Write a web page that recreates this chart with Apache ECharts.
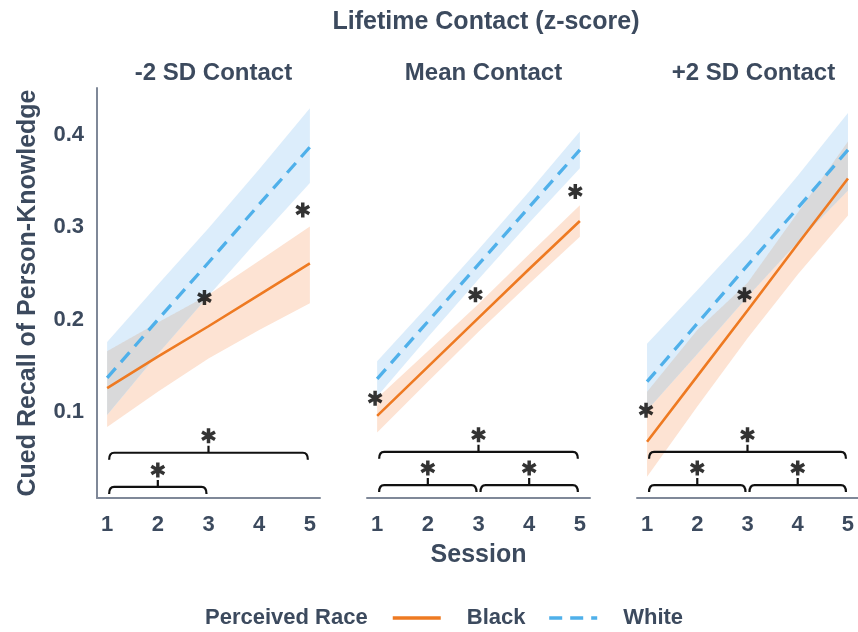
<!DOCTYPE html>
<html><head><meta charset="utf-8">
<script src="https://cdn.jsdelivr.net/npm/echarts@6/dist/echarts.min.js"></script>
<style>html,body{margin:0;padding:0;background:#fff}#c{width:858px;height:632px}</style>
</head><body><div id="c"></div>
<script>
// ---------------- data ----------------
const sessions = [1, 2, 3, 4, 5];
const xTickValues = [1, 2, 3, 4, 5];
const yTickValues = [0.1, 0.2, 0.3, 0.4];
const panelTitles = ['-2 SD Contact', 'Mean Contact', '+2 SD Contact'];
const topTitle = 'Lifetime Contact (z-score)';
const yName = 'Cued Recall of Person-Knowledge';
const xName = 'Session';
const legendTitle = 'Perceived Race';
const raceNames = ['Black', 'White'];

// predicted recall per panel (rows) per session (cols)
const blackFit = [
  [0.126, 0.160, 0.193, 0.227, 0.261],
  [0.096, 0.149, 0.202, 0.255, 0.307],
  [0.068, 0.139, 0.210, 0.282, 0.353]
];
const blackLower = [
  [0.084, 0.122, 0.158, 0.189, 0.218],
  [0.078, 0.133, 0.187, 0.239, 0.290],
  [0.030, 0.106, 0.180, 0.249, 0.313]
];
const blackUpper = [
  [0.166, 0.197, 0.227, 0.264, 0.301],
  [0.115, 0.166, 0.217, 0.271, 0.324],
  [0.122, 0.189, 0.240, 0.316, 0.393]
];
const whiteFit = [
  [0.137, 0.200, 0.262, 0.325, 0.387],
  [0.136, 0.198, 0.260, 0.322, 0.384],
  [0.133, 0.196, 0.259, 0.321, 0.384]
];
const whiteLower = [
  [0.097, 0.163, 0.226, 0.288, 0.348],
  [0.117, 0.181, 0.244, 0.305, 0.364],
  [0.102, 0.163, 0.225, 0.284, 0.340]
];
const whiteUpper = [
  [0.176, 0.238, 0.299, 0.363, 0.429],
  [0.155, 0.215, 0.276, 0.339, 0.404],
  [0.174, 0.232, 0.291, 0.356, 0.424]
];
// significance stars placed next to the lines: [session, recall]
const lineStars = [
  [[2.92, 0.224], [4.86, 0.319]],
  [[0.96, 0.115], [2.94, 0.227], [4.91, 0.339]],
  [[0.98, 0.102], [2.94, 0.227]]
];
// session comparisons (brackets): [fromSession, toSession, recall level]
const brackets = [
  [[1, 3, 0.019], [1, 5, 0.056]],
  [[1, 3, 0.021], [3, 5, 0.021], [1, 5, 0.057]],
  [[1, 3, 0.021], [3, 5, 0.021], [1, 5, 0.057]]
];

// ---------------- style ----------------
const TXT = '#3c4a5e';
const AXIS = '#7f8898';
const ORANGE = '#ee7a22';
const BLUE = '#4fb0ea';
const ORANGE_FILL = '#fde3d3';
const BLUE_FILL = '#dcedfb';
const OVERLAP_FILL = '#d9d9da';
const FONT = '"Liberation Sans", Arial, sans-serif';
const gridLefts = [97, 367, 637];
const GRID_W = 223, GRID_TOP = 88, GRID_H = 410;

function starPath() {
  const L = 9, W = 2.1, parts = [];
  [90, 30, 150].forEach(function (deg) {
    const t = deg * Math.PI / 180, dx = Math.cos(t), dy = Math.sin(t), nx = -dy, ny = dx;
    const p = [
      [10 + L * dx + W * nx, 10 + L * dy + W * ny],
      [10 - L * dx + W * nx, 10 - L * dy + W * ny],
      [10 - L * dx - W * nx, 10 - L * dy - W * ny],
      [10 + L * dx - W * nx, 10 + L * dy - W * ny]
    ].map(function (q) { return q[0].toFixed(2) + ' ' + q[1].toFixed(2); });
    parts.push('M' + p[0] + ' L' + p[1] + ' L' + p[2] + ' L' + p[3] + ' Z');
  });
  return 'path://' + parts.join(' ');
}
const STAR = starPath();

// linear reading between session values (used for band overlap geometry)
function at(arr, x) {
  const i = Math.min(sessions.length - 2, Math.max(0, Math.floor(x - sessions[0])));
  const t = (x - sessions[i]) / (sessions[i + 1] - sessions[i]);
  return arr[i] + (arr[i + 1] - arr[i]) * t;
}

const grids = [], xAxes = [], yAxes = [], series = [], titles = [];
for (let p = 0; p < 3; p++) {
  grids.push({ left: gridLefts[p], top: GRID_TOP, width: GRID_W, height: GRID_H });
  xAxes.push({
    type: 'value', gridIndex: p, min: 0.8, max: 5.2,
    axisLine: { show: true, lineStyle: { color: AXIS, width: 2 } },
    axisTick: { show: false }, splitLine: { show: false },
    axisLabel: { customValues: xTickValues, color: TXT, fontSize: 22, fontWeight: 'bold', fontFamily: FONT, margin: 16 },
    name: p === 1 ? xName : '', nameLocation: 'middle', nameGap: 45,
    nameTextStyle: { color: TXT, fontSize: 25, fontWeight: 'bold', fontFamily: FONT }
  });
  yAxes.push({
    type: 'value', gridIndex: p, min: 0.007, max: 0.451,
    show: p === 0,
    axisLine: { show: true, lineStyle: { color: AXIS, width: 2 } },
    axisTick: { show: false }, splitLine: { show: false },
    axisLabel: { customValues: yTickValues, color: TXT, fontSize: 22, fontWeight: 'bold', fontFamily: FONT, margin: 13,
      formatter: function (v) { return v.toFixed(1); } },
    name: p === 0 ? yName : '', nameLocation: 'middle', nameGap: 56,
    nameTextStyle: { color: TXT, fontSize: 25, fontWeight: 'bold', fontFamily: FONT }
  });
  titles.push({
    text: panelTitles[p], left: gridLefts[p] + GRID_W / 2, top: 56, textAlign: 'center',
    textStyle: { color: TXT, fontSize: 24, fontWeight: 'bold', fontFamily: FONT }
  });

  // confidence bands
  [[blackLower, blackUpper, ORANGE_FILL], [whiteLower, whiteUpper, BLUE_FILL]].forEach(function (b, k) {
    const lo = b[0][p], hi = b[1][p];
    series.push({
      type: 'custom', xAxisIndex: p, yAxisIndex: p, silent: true, z: 1 + k,
      data: [[sessions[0], lo[0]]],
      renderItem: function (params, api) {
        const pts = [];
        for (let i = 0; i < sessions.length; i++) pts.push(api.coord([sessions[i], hi[i]]));
        for (let i = sessions.length - 1; i >= 0; i--) pts.push(api.coord([sessions[i], lo[i]]));
        return { type: 'polygon', shape: { points: pts }, style: { fill: b[2] } };
      }
    });
  });
  // overlap of the two bands
  series.push({
    type: 'custom', xAxisIndex: p, yAxisIndex: p, silent: true, z: 3,
    data: [[sessions[0], blackLower[p][0]]],
    renderItem: function (params, api) {
      const children = [];
      let top = [], bot = [];
      const flush = function () {
        if (top.length > 1) children.push({ type: 'polygon', shape: { points: top.concat(bot.reverse()) }, style: { fill: OVERLAP_FILL } });
        top = []; bot = [];
      };
      const x0 = sessions[0], x1 = sessions[sessions.length - 1], n = 400;
      for (let j = 0; j <= n; j++) {
        const x = x0 + (x1 - x0) * j / n;
        const lo = Math.max(at(blackLower[p], x), at(whiteLower[p], x));
        const hi = Math.min(at(blackUpper[p], x), at(whiteUpper[p], x));
        if (hi > lo) { top.push(api.coord([x, hi])); bot.push(api.coord([x, lo])); }
        else flush();
      }
      flush();
      return { type: 'group', children: children };
    }
  });

  // fitted lines
  series.push({
    name: raceNames[0], type: 'line', xAxisIndex: p, yAxisIndex: p, symbol: 'none', z: 5,
    data: sessions.map(function (s, i) { return [s, blackFit[p][i]]; }),
    lineStyle: { color: ORANGE, width: 2.6 }, itemStyle: { color: ORANGE }
  });
  series.push({
    name: raceNames[1], type: 'line', xAxisIndex: p, yAxisIndex: p, symbol: 'none', z: 6,
    data: sessions.map(function (s, i) { return [s, whiteFit[p][i]]; }),
    lineStyle: { color: BLUE, width: 3.3, type: [13, 8] }, itemStyle: { color: BLUE }
  });

  // stars near lines
  series.push({
    type: 'scatter', xAxisIndex: p, yAxisIndex: p, silent: true, z: 8,
    symbol: STAR, symbolSize: 15, symbolKeepAspect: true,
    itemStyle: { color: '#000' }, data: lineStars[p]
  });

  // brackets
  series.push({
    type: 'custom', xAxisIndex: p, yAxisIndex: p, silent: true, z: 7,
    data: brackets[p],
    renderItem: function (params, api) {
      const a = api.coord([api.value(0), api.value(2)]);
      const b = api.coord([api.value(1), api.value(2)]);
      const x1 = a[0] + 2, x2 = b[0] - 2, y = a[1], xm = (a[0] + b[0]) / 2;
      const d = 'M' + x1 + ' ' + (y + 7) + ' Q' + x1 + ' ' + y + ' ' + (x1 + 5) + ' ' + y +
        ' L' + (x2 - 5) + ' ' + y + ' Q' + x2 + ' ' + y + ' ' + x2 + ' ' + (y + 7) +
        ' M' + xm + ' ' + y + ' L' + xm + ' ' + (y - 7);
      return { type: 'path', shape: { pathData: d }, style: { fill: null, stroke: '#111', lineWidth: 2.2 } };
    }
  });
  // stars above brackets
  series.push({
    type: 'scatter', xAxisIndex: p, yAxisIndex: p, silent: true, z: 8,
    symbol: STAR, symbolSize: 15, symbolKeepAspect: true, symbolOffset: [0, -17],
    itemStyle: { color: '#000' },
    data: brackets[p].map(function (br) { return [(br[0] + br[1]) / 2, br[2]]; })
  });
}

titles.push({
  text: topTitle, left: 481, top: 5, textAlign: 'center',
  textStyle: { color: TXT, fontSize: 25, fontWeight: 'bold', fontFamily: FONT }
});

const chart = echarts.init(document.getElementById('c'), null, { renderer: 'canvas' });
chart.setOption({
  backgroundColor: '#fff',
  animation: false,
  title: titles,
  grid: grids, xAxis: xAxes, yAxis: yAxes, series: series,
  legend: {
    data: raceNames, left: 391, top: 607, padding: 0, itemWidth: 48, itemHeight: 14, itemGap: 22,
    itemStyle: { opacity: 0 },
    lineStyle: { width: 3.5 },
    textStyle: { color: TXT, fontSize: 22, fontWeight: 'bold', fontFamily: FONT, padding: [0, 0, 0, 21] },
    selectedMode: false
  },
  graphic: [{
    type: 'text', left: 205, top: 607,
    style: { text: legendTitle, fill: TXT, font: 'bold 22px ' + FONT }
  }]
});
</script></body></html>
